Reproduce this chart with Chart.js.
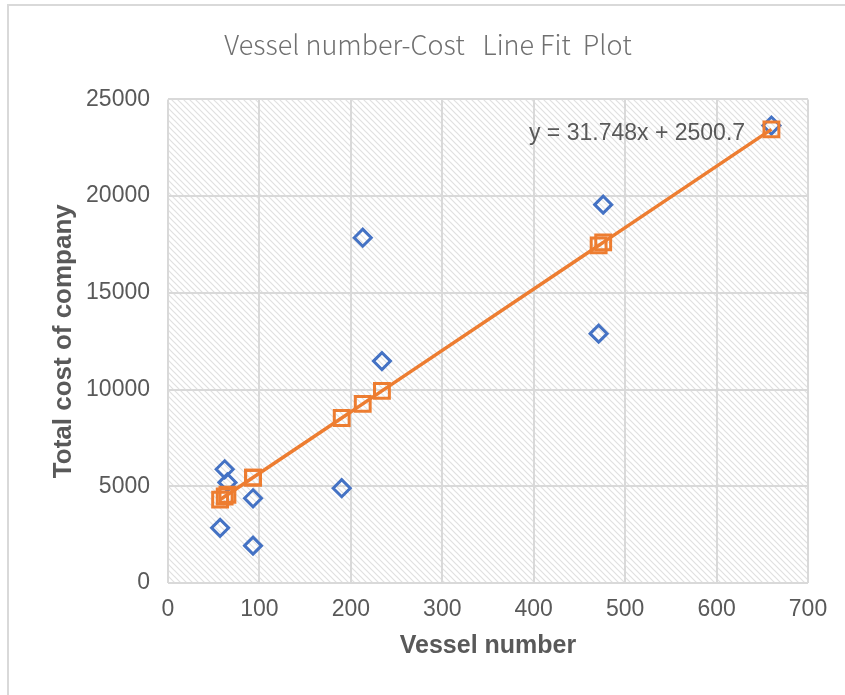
<!DOCTYPE html>
<html>
<head>
<meta charset="utf-8">
<title>Vessel number-Cost Line Fit Plot</title>
<script src="https://cdn.jsdelivr.net/npm/chart.js@4/dist/chart.umd.min.js"></script>
<style>
  body { margin: 0; background: #fff; }
  #wrap { position: relative; width: 845px; height: 695px; }
  #frame { position: absolute; left: 7px; top: 4px; right: -5px; bottom: -5px;
           border-left: 2px solid #d9d9d9; border-top: 2px solid #d9d9d9; }
  #fitChart { position: absolute; left: 0; top: 0; }
</style>
</head>
<body>
<div id="wrap">
  <div id="frame"></div>
  <canvas id="fitChart" width="845" height="695"></canvas>
</div>
<script>
  // values
  var vesselNumber  = [57, 62, 65, 93, 93, 190, 213, 234, 471, 476, 660];
  var totalCost     = [2850, 5880, 5200, 4380, 1930, 4900, 17850, 11470, 12890, 19560, 23650];
  var predictedCost = [4310, 4470, 4560, 5450, 5450, 8530, 9260, 9930, 17450, 17610, 23450];

  var xTicks = [0, 100, 200, 300, 400, 500, 600, 700];
  var yTicks = [0, 5000, 10000, 15000, 20000, 25000];

  var equationText = "y = 31.748x + 2500.7";
  var equationAt = { x: 513, y: 23250 };

  const BLUE = "#4472C4";
  const ORANGE = "#ED7D31";
  const TEXT = "#595959";

  function toPoints(xs, ys) {
    var pts = [];
    for (let i = 0; i < xs.length; i++) {
      pts.push({ x: xs[i], y: ys[i] });
    }
    return pts;
  }

  // diagonal hatch used as plot area fill
  function makeHatch(ctx) {
    var c = document.createElement("canvas");
    c.width = 6; c.height = 6;
    var g = c.getContext("2d");
    g.fillStyle = "#ffffff";
    g.fillRect(0, 0, 6, 6);
    g.strokeStyle = "#e0e0e0";
    g.lineWidth = 1.2;
    g.beginPath();
    g.moveTo(-1, -1); g.lineTo(7, 7);
    g.moveTo(-1, 5); g.lineTo(1, 7);
    g.moveTo(5, -1); g.lineTo(7, 1);
    g.stroke();
    return ctx.createPattern(c, "repeat");
  }

  var hatchPlugin = {
    id: "hatch",
    beforeDraw: function(chart) {
      var a = chart.chartArea;
      var ctx = chart.ctx;
      ctx.save();
      ctx.fillStyle = makeHatch(ctx);
      ctx.fillRect(a.left, a.top, a.right - a.left, a.bottom - a.top);
      ctx.restore();
    }
  };

  var equationPlugin = {
    id: "equation",
    afterDatasetsDraw: function(chart) {
      var ctx = chart.ctx;
      var px = chart.scales.x.getPixelForValue(equationAt.x);
      var py = chart.scales.y.getPixelForValue(equationAt.y);
      ctx.save();
      ctx.font = "23px 'Liberation Sans', Arial, sans-serif";
      ctx.fillStyle = TEXT;
      ctx.textAlign = "center";
      ctx.textBaseline = "middle";
      ctx.fillText(equationText, px, py);
      ctx.restore();
    }
  };

  // predicted points sorted by x so the fit line runs left to right
  var fitPoints = toPoints(vesselNumber, predictedCost).sort(function(a, b) { return a.x - b.x; });

  var ctx = document.getElementById("fitChart");
  var fitChart = new Chart(ctx, {
    type: "scatter",
    data: {
      datasets: [
        {
          label: "Predicted Total cost of company",
          data: fitPoints,
          order: 0,
          showLine: true,
          borderColor: ORANGE,
          borderWidth: 3.5,
          pointStyle: "rect",
          pointRadius: 10.5,
          pointBorderWidth: 3,
          pointBorderColor: ORANGE,
          pointBackgroundColor: "rgba(0,0,0,0)"
        },
        {
          label: "Total cost of company",
          data: toPoints(vesselNumber, totalCost),
          order: 1,
          pointStyle: "rectRot",
          pointRadius: 8.5,
          pointBorderWidth: 3,
          pointBorderColor: BLUE,
          pointBackgroundColor: "rgba(0,0,0,0)"
        }
      ]
    },
    options: {
      responsive: false,
      animation: false,
      layout: { padding: { left: 48, right: 37, top: 0, bottom: 34 } },
      plugins: {
        legend: { display: false },
        tooltip: { enabled: false },
        title: {
          display: true,
          text: "Vessel number-Cost   Line Fit  Plot",
          color: "#707070",
          font: { family: "'Noto Sans CJK SC', 'Liberation Sans', sans-serif", size: 27, weight: "300" },
          padding: { top: 29, bottom: 38 }
        }
      },
      scales: {
        x: {
          type: "linear",
          min: 0,
          max: 700,
          afterBuildTicks: function(s) { s.ticks = xTicks.map(function(v) { return { value: v }; }); },
          afterFit: function(s) { s.height = 78; },
          grid: { color: "#d9d9d9", lineWidth: 2, drawTicks: false },
          border: { display: false },
          ticks: {
            color: TEXT,
            padding: 13,
            font: { family: "'Liberation Sans', Arial, sans-serif", size: 23 }
          },
          title: {
            display: true,
            text: "Vessel number",
            color: TEXT,
            padding: 0,
            font: { family: "'Liberation Sans', Arial, sans-serif", size: 25, weight: "bold" }
          }
        },
        y: {
          type: "linear",
          min: 0,
          max: 25000,
          afterBuildTicks: function(s) { s.ticks = yTicks.map(function(v) { return { value: v }; }); },
          afterFit: function(s) { s.width = 120; },
          grid: { color: "#d9d9d9", lineWidth: 2, drawTicks: false },
          border: { display: false },
          ticks: {
            color: TEXT,
            padding: 18,
            font: { family: "'Liberation Sans', Arial, sans-serif", size: 23 },
            callback: function(v) { return String(v); }
          },
          title: {
            display: true,
            text: "Total cost of company",
            color: TEXT,
            padding: 0,
            font: { family: "'Liberation Sans', Arial, sans-serif", size: 26, weight: "bold" }
          }
        }
      }
    },
    plugins: [hatchPlugin, equationPlugin]
  });
</script>
</body>
</html>
